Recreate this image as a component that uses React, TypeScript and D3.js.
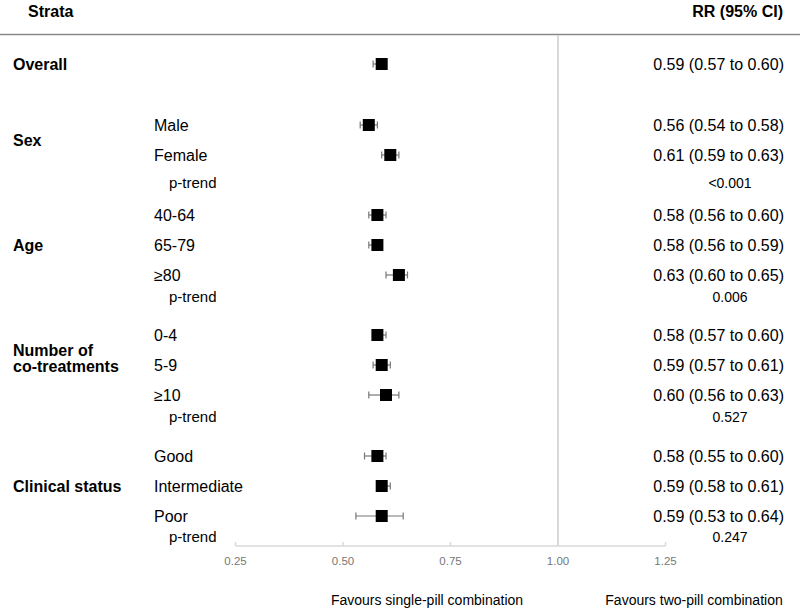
import React from "react";
import * as d3 from "d3";

const groups = ["Overall", "Sex", "Age", "Number of|co-treatments", "Clinical status"];
const labels = ["Male", "Female", "40-64", "65-79", "≥80", "0-4", "5-9", "≥10", "Good", "Intermediate", "Poor"];
const overallRR = [0.59, 0.57, 0.60];
const rr = [0.56, 0.61, 0.58, 0.58, 0.63, 0.58, 0.59, 0.60, 0.58, 0.59, 0.59];
const lo = [0.54, 0.59, 0.56, 0.56, 0.60, 0.57, 0.57, 0.56, 0.55, 0.58, 0.53];
const hi = [0.58, 0.63, 0.60, 0.59, 0.65, 0.60, 0.61, 0.63, 0.60, 0.61, 0.64];
const pTrend = ["<0.001", "0.006", "0.527", "0.247"];
const ticks = [0.25, 0.5, 0.75, 1.0, 1.25];

const FONT = "'Liberation Sans', Arial, Helvetica, sans-serif";

export default function App() {
  const W = 800, H = 608;
  const x = d3.scaleLinear().domain([0.25, 1.25]).range([235.5, 665.5]);
  const rowY = [125, 155, 215, 245, 275, 335, 365, 395, 456, 486, 516];
  const pY = [183, 297, 417, 537];
  const groupY: Record<number, number[]> = {
    1: [140],
    2: [245],
    3: [350, 366],
    4: [486],
  };
  const fmt = (v: number) => d3.format(".2f")(v);
  const est = [
    { y: 64, r: overallRR[0], l: overallRR[1], h: overallRR[2] },
    ...rr.map((r, i) => ({ y: rowY[i], r, l: lo[i], h: hi[i] })),
  ];
  const axisY = 546;
  return (
    <svg width={W} height={H} style={{ position: "absolute", left: 0, top: 0, fontFamily: FONT }}>
      <rect width={W} height={H} fill="#fff" />
      <text x={28} y={17} fontSize={16} fontWeight="bold">Strata</text>
      <text x={783} y={17} fontSize={16} fontWeight="bold" textAnchor="end">RR (95% CI)</text>
      <line x1={0} x2={W} y1={34.5} y2={34.5} stroke="#888" strokeWidth={1.5} />
      <line x1={x(1)} x2={x(1)} y1={35} y2={axisY} stroke="#ccc" strokeWidth={1.5} />
      <text x={13} y={70} fontSize={16} fontWeight="bold">{groups[0]}</text>
      {groups.slice(1).map((g, gi) => {
        const parts = g.split("|");
        const ys = groupY[gi + 1];
        return parts.map((p, k) => (
          <text key={g + k} x={13} y={ys[k] + 6} fontSize={16} fontWeight="bold">{p}</text>
        ));
      })}
      {labels.map((l, i) => (
        <text key={l} x={154} y={rowY[i] + 6} fontSize={16}>{l}</text>
      ))}
      {pY.map((y, i) => (
        <g key={"p" + i}>
          <text x={169} y={y + 5} fontSize={15}>p-trend</text>
          <text x={730} y={y + 5} fontSize={14} textAnchor="middle">{pTrend[i]}</text>
        </g>
      ))}
      {est.map((e, i) => (
        <g key={"e" + i}>
          <line x1={x(e.l)} x2={x(e.h)} y1={e.y} y2={e.y} stroke="#777" strokeWidth={1.2} />
          <line x1={x(e.l)} x2={x(e.l)} y1={e.y - 3.5} y2={e.y + 3.5} stroke="#777" strokeWidth={1.2} />
          <line x1={x(e.h)} x2={x(e.h)} y1={e.y - 3.5} y2={e.y + 3.5} stroke="#777" strokeWidth={1.2} />
          <rect x={x(e.r) - 6} y={e.y - 6} width={12} height={12} fill="#000" />
          <text x={784} y={e.y + 6} fontSize={16} textAnchor="end">
            {`${fmt(e.r)} (${fmt(e.l)} to ${fmt(e.h)})`}
          </text>
        </g>
      ))}
      <line x1={x(0.25)} x2={x(1.25)} y1={axisY} y2={axisY} stroke="#d9d9d9" strokeWidth={1.5} />
      {ticks.map((t) => (
        <g key={"t" + t}>
          <line x1={x(t)} x2={x(t)} y1={axisY} y2={axisY - 4} stroke="#d9d9d9" strokeWidth={1.5} />
          <text x={x(t)} y={axisY + 19} fontSize={11.5} fill="#777" textAnchor="middle">{d3.format(".2f")(t)}</text>
        </g>
      ))}
      <text x={427} y={605} fontSize={14} textAnchor="middle">Favours single-pill combination</text>
      <text x={694} y={605} fontSize={14} textAnchor="middle">Favours two-pill combination</text>
    </svg>
  );
}
